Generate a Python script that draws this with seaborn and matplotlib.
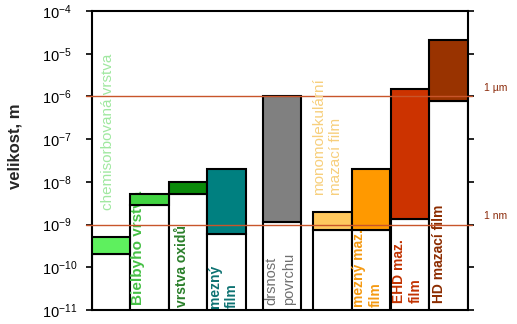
import numpy as np
import matplotlib
matplotlib.use("Agg")
import matplotlib.pyplot as plt
import matplotlib.transforms as mtransforms
from matplotlib.ticker import FixedLocator, NullLocator, LogFormatterSciNotation
import seaborn as sns

# ---------------- data ----------------
categories = ["chemisorbovaná vrstva", "Bielbyho vrstva", "vrstva oxidů", "mezný film",
              "drsnost povrchu", "monomolekulární mazací film", "mezný mazací film",
              "EHD mazací film", "HD mazací film"]
label_texts = ["chemisorbovaná vrstva", "Bielbyho vrstva", "vrstva oxidů", "mezný\nfilm",
               "drsnost\npovrchu", "monomolekulární\nmazací film", "mezný maz.\nfilm",
               "EHD maz.\nfilm", "HD mazací film"]
lower_m = [2.0e-10, 2.8e-9, 5.2e-9, 6.0e-10, 1.17e-9, 7.4e-10, 7.4e-10, 1.35e-9, 7.8e-7]
upper_m = [5.0e-10, 5.3e-9, 1.0e-8, 2.0e-8, 1.0e-6, 2.0e-9, 2.0e-8, 1.5e-6, 2.1e-5]
ytick_values = [1e-11, 1e-10, 1e-9, 1e-8, 1e-7, 1e-6, 1e-5, 1e-4]
ref_values = [1e-6, 1e-9]
ref_labels = ["1 µm", "1 nm"]
y_label = "velikost, m"

# ---------------- styles / layout ----------------
bar_colors = ["#5ef05e", "#42d442", "#0a8a0a", "#008080", "#808080",
              "#ffc85e", "#ff9900", "#cc3300", "#993300"]
text_colors = ["#a0e8a0", "#46c046", "#2a7f2a", "#0d7272", "#6f6f6f",
               "#f7cf7c", "#f59a12", "#c23200", "#8c2c00"]
slot_x = [0.5, 1.5, 2.5, 3.5, 4.93, 6.24, 7.24, 8.25, 9.25]
# (x in data units, y in axes fraction, weight, size, inside bar)
text_layout = [
    (0.42, 0.334, "normal", 11, False),
    (1.20, 0.017, "bold", 11, True),
    (2.34, 0.010, "bold", 10, True),
    (3.41, 0.008, "bold", 10, True),
    (4.88, 0.017, "normal", 10.5, True),
    (6.11, 0.385, "normal", 11, False),
    (7.15, 0.010, "bold", 10, True),
    (8.18, 0.023, "bold", 10, True),
    (9.01, 0.023, "bold", 10, True),
]

sns.set_style("ticks")
plt.rcParams["font.family"] = ["Liberation Sans", "DejaVu Sans"]
plt.rcParams["mathtext.fontset"] = "custom"
plt.rcParams["mathtext.rm"] = "Liberation Sans"
plt.rcParams["mathtext.it"] = "Liberation Sans:italic"
plt.rcParams["mathtext.bf"] = "Liberation Sans:bold"

fig = plt.figure(figsize=(5.17, 3.24), dpi=100)
fig.patch.set_facecolor("white")
ax = fig.add_axes([0.1774, 0.0432, 0.7273, 0.9228])

# white lower parts of the bars
sns.barplot(x=slot_x, y=lower_m, native_scale=True, width=1.0, color="white",
            edgecolor="black", linewidth=1.5, errorbar=None, saturation=1,
            zorder=1, ax=ax)

# coloured ranges (floating bars)
heights = np.array(upper_m) - np.array(lower_m)
sns.barplot(x=slot_x, y=heights, bottom=lower_m, native_scale=True, width=1.0,
            color="grey", edgecolor="black", linewidth=1.5, errorbar=None,
            saturation=1, zorder=3, ax=ax)
for patch, c in zip(ax.containers[-1], bar_colors):
    patch.set_facecolor(c)

ax.set_yscale("log")
ax.set_ylim(1e-11, 1e-4)
ax.set_xlim(0, 9.75)
ax.yaxis.set_major_locator(FixedLocator(ytick_values))
ax.yaxis.set_minor_locator(NullLocator())
ax.yaxis.set_major_formatter(LogFormatterSciNotation())
ax.set_xticks([])
ax.set_xlabel("")
ax.tick_params(axis="y", which="major", direction="out", length=4.5, width=1.2,
               left=True, right=True, labelsize=10.5, pad=31, colors="black")
for lab in ax.get_yticklabels():
    lab.set_horizontalalignment("left")
for s in ax.spines.values():
    s.set_visible(True)
    s.set_linewidth(1.5)
    s.set_color("black")

ax.set_ylabel(y_label, fontsize=12, fontweight="bold")
ax.yaxis.set_label_coords(-0.183, 0.548)

# reference lines
for v, lbl in zip(ref_values, ref_labels):
    ax.axhline(v, xmin=-0.016, xmax=1.012, color="#c8552a", lw=1.0, zorder=5,
               clip_on=False)
    ax.annotate(lbl, xy=(1, v), xycoords=ax.get_yaxis_transform(),
                xytext=(12, 6), textcoords="offset points", ha="left",
                va="center", fontsize=7.5, color="#8b2a0a")

# text labels
trans = mtransforms.blended_transform_factory(ax.transData, ax.transAxes)
for txt, col, (tx, ty, w, fs, inside) in zip(label_texts, text_colors, text_layout):
    ax.text(tx, ty, txt, transform=trans, rotation=90, ha="center", va="bottom",
            multialignment="left", linespacing=1.3, fontsize=fs, fontweight=w,
            color=col, zorder=2 if inside else 6)

fig.savefig("out.png", dpi=100, facecolor="white")
